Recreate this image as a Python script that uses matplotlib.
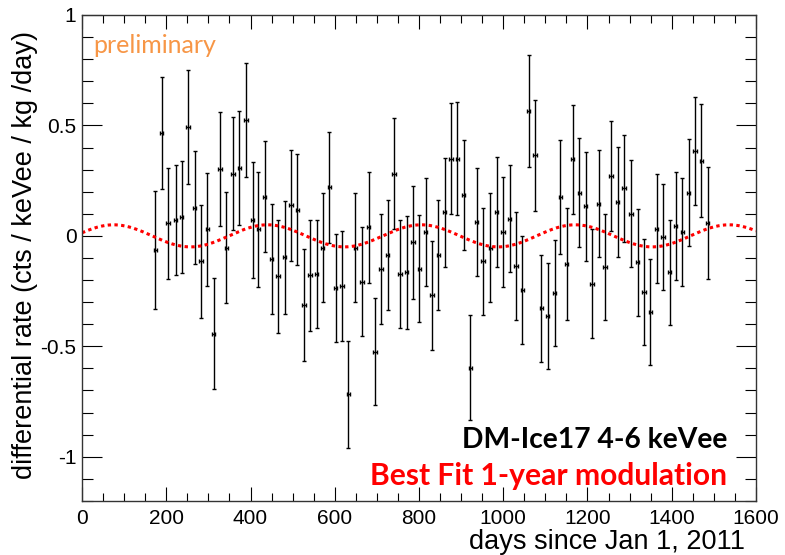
import numpy as np
import matplotlib
matplotlib.use("Agg")
import matplotlib.pyplot as plt
from matplotlib.ticker import MultipleLocator, FuncFormatter

plt.rcParams["font.family"] = ["Liberation Sans", "DejaVu Sans"]

# Binned rate measurements (days since Jan 1, 2011)
days = [174.0, 189.2, 204.2, 222.4, 236.7, 251.6, 267.5, 282.5, 297.4, 312.6,
        327.6, 342.6, 358.5, 373.4, 389.3, 405.2, 418.5, 433.7, 450.3, 465.3,
        481.2, 496.1, 511.1, 527.0, 541.2, 557.2, 571.4, 587.1, 602.3, 617.2,
        632.2, 648.8, 664.7, 680.6, 695.5, 709.8, 725.7, 740.7, 754.9, 770.8,
        785.8, 800.7, 815.9, 830.9, 845.8, 861.0, 876.0, 890.9, 906.1, 921.8,
        937.0, 951.9, 969.3, 984.5, 999.4, 1015.3, 1030.3, 1045.2, 1060.4, 1075.4,
        1090.3, 1105.5, 1122.1, 1135.4, 1150.6, 1164.9, 1180.5, 1195.7, 1210.7, 1226.6,
        1241.5, 1255.8, 1271.7, 1286.6, 1303.3, 1319.2, 1334.1, 1349.1, 1364.3, 1379.2,
        1395.1, 1409.4, 1425.0, 1440.2, 1455.2, 1470.1, 1485.3]

rate = [-0.062, 0.465, 0.057, 0.072, 0.086, 0.494, 0.128, -0.116, 0.029, -0.443,
        0.302, -0.054, 0.282, 0.306, 0.524, 0.072, 0.029, 0.178, -0.106, -0.183,
        -0.097, 0.139, 0.119, -0.313, -0.179, -0.172, -0.053, 0.220, -0.237, -0.227,
        -0.718, -0.053, -0.207, 0.038, -0.524, -0.150, -0.088, 0.282, -0.174, -0.165,
        -0.030, -0.148, 0.019, -0.270, -0.088, 0.106, 0.350, 0.350, 0.187, -0.597,
        0.063, -0.116, -0.053, 0.106, 0.019, 0.077, -0.136, -0.246, 0.566, 0.365,
        -0.328, -0.361, -0.260, 0.177, -0.126, 0.346, 0.196, 0.134, -0.216, 0.145,
        -0.140, 0.269, 0.154, 0.216, 0.101, -0.120, -0.254, -0.346, 0.033, -0.005,
        -0.165, 0.043, 0.019, 0.196, 0.383, 0.341, 0.057]

rate_err = [0.267, 0.255, 0.252, 0.251, 0.252, 0.259, 0.257, 0.255, 0.257, 0.250,
            0.258, 0.251, 0.255, 0.258, 0.258, 0.261, 0.260, 0.252, 0.249, 0.255,
            0.255, 0.251, 0.251, 0.254, 0.253, 0.246, 0.248, 0.251, 0.244, 0.247,
            0.242, 0.248, 0.245, 0.252, 0.244, 0.249, 0.249, 0.251, 0.245, 0.257,
            0.257, 0.244, 0.245, 0.245, 0.249, 0.245, 0.251, 0.255, 0.249, 0.237,
            0.245, 0.243, 0.245, 0.249, 0.249, 0.242, 0.243, 0.245, 0.254, 0.252,
            0.241, 0.240, 0.240, 0.259, 0.254, 0.248, 0.245, 0.247, 0.245, 0.242,
            0.239, 0.249, 0.248, 0.242, 0.243, 0.241, 0.239, 0.239, 0.245, 0.240,
            0.239, 0.245, 0.244, 0.243, 0.245, 0.257, 0.254]

day_err = 4.0

# 1-year modulation fit parameters
fit_amplitude = 0.05
fit_period = 365.25
fit_phase = 75.0

fig = plt.figure(figsize=(7.85, 5.55), dpi=100)
ax = fig.add_axes([0.1045, 0.0975, 0.8585, 0.8755])

ax.errorbar(days, rate, yerr=rate_err, xerr=day_err, fmt="none",
            ecolor="black", elinewidth=1.0, capsize=1.7, capthick=1.0)

t = np.linspace(0, 1600, 1200)
model = fit_amplitude * np.cos(2 * np.pi * (t - fit_phase) / fit_period)
ax.plot(t, model, color="#ff0000", lw=2.2, linestyle=(0, (1.1, 1.1)),
        dash_capstyle="butt")

ax.set_xlim(0, 1600)
ax.set_ylim(-1.2, 1.0)
ax.xaxis.set_major_locator(MultipleLocator(200))
ax.xaxis.set_minor_locator(MultipleLocator(50))
ax.yaxis.set_major_locator(MultipleLocator(0.5))
ax.yaxis.set_minor_locator(MultipleLocator(0.1))
ax.yaxis.set_major_formatter(FuncFormatter(lambda v, p: f"{v:g}"))

ax.tick_params(axis="x", which="major", direction="in", length=10.3, width=0.8,
               top=True, labelsize=15, pad=6)
ax.tick_params(axis="x", which="minor", direction="in", length=5.5, width=0.8, top=True)
ax.tick_params(axis="y", which="major", direction="in", length=14.4, width=0.8,
               right=True, labelsize=15, pad=4)
ax.tick_params(axis="y", which="minor", direction="in", length=7.7, width=0.8, right=True)
for s in ax.spines.values():
    s.set_linewidth(1.0)
    s.set_color("#333333")

fig.text(25 / 785, 1 - 255 / 555, "differential rate (cts / keVee / kg /day)",
         rotation=90, ha="center", va="center", fontsize=19.5)
fig.text(745 / 785, 1 - 542 / 555, "days since Jan 1, 2011",
         ha="right", va="center", fontsize=19.5)

fig.text(93 / 785, 1 - 53 / 555, "preliminary", ha="left", va="baseline",
         fontsize=18, color="#f79646", family="Lato")
fig.text(727 / 785, 1 - 448 / 555, "DM-Ice17 4-6 keVee", ha="right", va="baseline",
         fontsize=20.3, fontweight="bold", color="black", family="Lato")
fig.text(727 / 785, 1 - 485 / 555, "Best Fit 1-year modulation", ha="right",
         va="baseline", fontsize=21.6, fontweight="bold", color="#ff0000", family="Lato")

fig.savefig("out.png", dpi=100)
